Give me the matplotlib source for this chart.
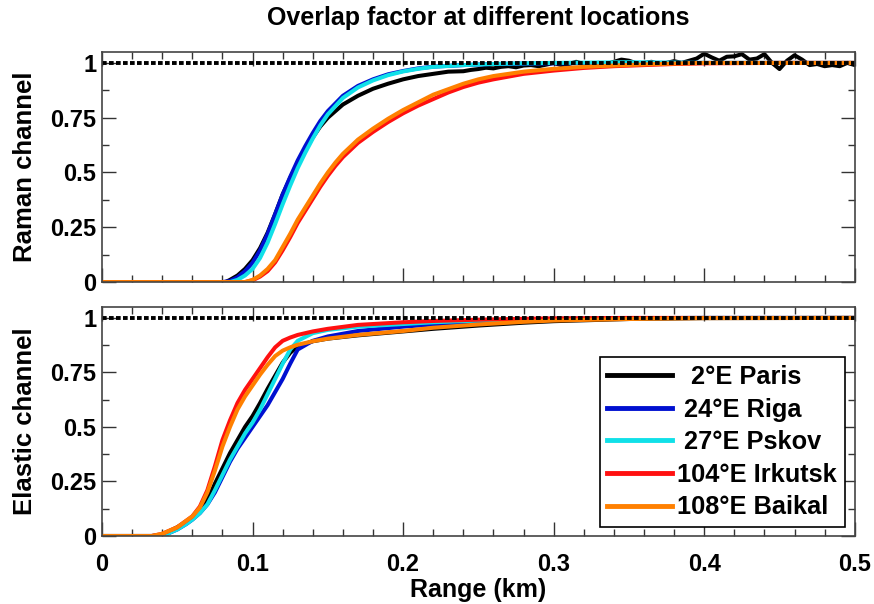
import matplotlib
matplotlib.use("Agg")
import matplotlib.pyplot as plt
from matplotlib.ticker import MultipleLocator

plt.rcParams["font.family"] = ["Liberation Sans", "DejaVu Sans"]
plt.rcParams["font.weight"] = "bold"

# Raman channel overlap curves
raman_x = [0, 0.08, 0.085, 0.09, 0.095, 0.10, 0.105, 0.11, 0.115, 0.12, 0.125,
           0.13, 0.135, 0.14, 0.145, 0.15, 0.16, 0.17, 0.18, 0.19, 0.20, 0.21,
           0.22, 0.24, 0.26, 0.28, 0.30, 0.35, 0.40, 0.45, 0.50]
raman_riga = [0, 0, 0.005, 0.022, 0.05, 0.088, 0.145, 0.22, 0.31, 0.40, 0.48,
              0.555, 0.62, 0.68, 0.735, 0.78, 0.85, 0.895, 0.925, 0.948, 0.963,
              0.975, 0.983, 0.99, 0.995, 0.997, 0.998, 1.0, 1.0, 1.0, 1.0]
raman_pskov = [0, 0, 0, 0.01, 0.03, 0.06, 0.11, 0.18, 0.265, 0.355, 0.44,
               0.52, 0.59, 0.655, 0.715, 0.765, 0.84, 0.888, 0.92, 0.944, 0.961,
               0.973, 0.982, 0.99, 0.995, 0.998, 1.0, 1.003, 1.0, 1.0, 1.0]

raman_paris_x = [0, 0.082, 0.085, 0.09, 0.095, 0.10, 0.105, 0.11, 0.115, 0.12,
                 0.125, 0.13, 0.135, 0.14, 0.145, 0.15, 0.16, 0.17, 0.18, 0.19,
                 0.20, 0.21, 0.22, 0.23, 0.24, 0.245,
                 0.25, 0.255, 0.26, 0.265, 0.27, 0.275, 0.28, 0.285, 0.29, 0.295,
                 0.30, 0.305, 0.31, 0.315, 0.32, 0.325, 0.33, 0.335, 0.34, 0.345,
                 0.35, 0.355, 0.36, 0.365, 0.37, 0.375, 0.38, 0.385, 0.39, 0.395,
                 0.40, 0.405, 0.41, 0.415, 0.42, 0.425, 0.43, 0.435, 0.44, 0.445,
                 0.45, 0.455, 0.46, 0.465, 0.47, 0.475, 0.48, 0.485, 0.49, 0.495, 0.50]
raman_paris = [0, 0, 0.01, 0.03, 0.06, 0.10, 0.155, 0.225, 0.31, 0.40, 0.475,
               0.545, 0.605, 0.66, 0.71, 0.75, 0.81, 0.85, 0.882, 0.905,
               0.925, 0.94, 0.95, 0.96, 0.962, 0.968,
               0.972, 0.978, 0.975, 0.982, 0.985, 0.98, 0.988, 0.99, 0.985, 0.992,
               1.0, 0.99, 0.995, 1.005, 0.995, 0.998, 1.0, 0.995, 1.005, 1.015,
               1.01, 0.998, 1.0, 1.005, 0.995, 1.0, 1.008, 1.0, 1.01, 1.02,
               1.042, 1.025, 1.01, 1.028, 1.03, 1.04, 1.015, 1.02, 1.04, 1.0,
               0.972, 1.01, 1.035, 1.015, 0.99, 0.995, 0.985, 0.99, 0.985, 1.0, 0.99]

raman_far_x = [0, 0.095, 0.10, 0.105, 0.11, 0.115, 0.12, 0.125, 0.13, 0.135, 0.14,
               0.145, 0.15, 0.155, 0.16, 0.17, 0.18, 0.19, 0.20, 0.21, 0.22, 0.23,
               0.24, 0.25, 0.26, 0.28, 0.30, 0.32, 0.34, 0.36, 0.38, 0.40, 0.45, 0.50]
raman_irkutsk = [0, 0, 0.008, 0.025, 0.05, 0.09, 0.145, 0.205, 0.27, 0.325, 0.38,
                 0.435, 0.485, 0.53, 0.57, 0.635, 0.685, 0.73, 0.77, 0.805, 0.835,
                 0.865, 0.89, 0.91, 0.925, 0.95, 0.965, 0.977, 0.985, 0.99, 0.995,
                 0.998, 1.0, 1.0]
raman_baikal = [0, 0, 0.01, 0.03, 0.06, 0.10, 0.16, 0.22, 0.285, 0.34, 0.395,
                0.45, 0.50, 0.545, 0.585, 0.65, 0.70, 0.745, 0.785, 0.82, 0.855,
                0.88, 0.905, 0.925, 0.94, 0.96, 0.973, 0.982, 0.988, 0.993, 0.997,
                1.0, 1.0, 1.0]

# Elastic channel overlap curves
elastic_x = [0, 0.033, 0.04, 0.05, 0.056, 0.06, 0.065, 0.07, 0.075, 0.08, 0.085,
             0.09, 0.095, 0.10, 0.105, 0.11, 0.115, 0.12, 0.125, 0.13, 0.14,
             0.15, 0.17, 0.20, 0.22, 0.25, 0.28, 0.30, 0.35, 0.40, 0.50]
elastic_paris = [0, 0, 0.005, 0.04, 0.065, 0.085, 0.12, 0.165, 0.24, 0.31, 0.38,
                 0.44, 0.50, 0.55, 0.61, 0.675, 0.735, 0.795, 0.84, 0.87, 0.893,
                 0.905, 0.92, 0.938, 0.95, 0.965, 0.978, 0.985, 0.995, 0.999, 1.0]
elastic_riga = [0, 0, 0, 0.03, 0.055, 0.075, 0.105, 0.145, 0.20, 0.27, 0.34,
                0.40, 0.45, 0.50, 0.55, 0.60, 0.66, 0.72, 0.79, 0.855, 0.895,
                0.915, 0.94, 0.96, 0.97, 0.982, 0.99, 0.995, 0.999, 1.0, 1.0]
elastic_pskov = [0, 0, 0, 0.03, 0.055, 0.075, 0.105, 0.145, 0.21, 0.28, 0.35,
                 0.41, 0.47, 0.52, 0.58, 0.65, 0.72, 0.79, 0.855, 0.895, 0.93,
                 0.945, 0.96, 0.972, 0.98, 0.988, 0.993, 0.996, 0.999, 1.0, 1.0]
elastic_irkutsk = [0, 0, 0.01, 0.04, 0.07, 0.09, 0.135, 0.21, 0.32, 0.44, 0.53,
                   0.61, 0.67, 0.72, 0.77, 0.82, 0.865, 0.895, 0.91, 0.922, 0.938,
                   0.95, 0.968, 0.98, 0.986, 0.992, 0.996, 0.998, 1.0, 1.0, 1.0]
elastic_baikal = [0, 0, 0.01, 0.04, 0.07, 0.09, 0.13, 0.20, 0.30, 0.41, 0.50,
                  0.58, 0.64, 0.69, 0.74, 0.785, 0.825, 0.85, 0.865, 0.877, 0.893,
                  0.905, 0.922, 0.94, 0.955, 0.97, 0.982, 0.988, 0.995, 0.999, 1.0]

labels = ["  2°E Paris", " 24°E Riga", " 27°E Pskov", "104°E Irkutsk", "108°E Baikal"]
colors = ["black", "#0010d0", "#10e0e8", "#ff1010", "#ff8000"]

fig = plt.figure(figsize=(8.74, 6.04), dpi=100)
ax1 = fig.add_axes([0.1167, 0.533, 0.8613, 0.381])
ax2 = fig.add_axes([0.1167, 0.1126, 0.8613, 0.3791])

lw = 2.9
ax1.plot(raman_paris_x, raman_paris, color=colors[0], lw=lw)
ax1.plot(raman_x, raman_riga, color=colors[1], lw=lw)
ax1.plot(raman_x, raman_pskov, color=colors[2], lw=lw)
ax1.plot(raman_far_x, raman_irkutsk, color=colors[3], lw=lw)
ax1.plot(raman_far_x, raman_baikal, color=colors[4], lw=lw)

series = [elastic_paris, elastic_riga, elastic_pskov, elastic_irkutsk, elastic_baikal]
for ys, c, lab in zip(series, colors, labels):
    ax2.plot(elastic_x, ys, color=c, lw=lw, label=lab)

for ax in (ax1, ax2):
    ax.axhline(1.0, color="black", lw=2.8, ls=(0, (1.2, 0.6)))
    ax.set_xlim(0, 0.5)
    ax.set_ylim(0, 1.05)
    ax.xaxis.set_major_locator(MultipleLocator(0.1))
    ax.xaxis.set_minor_locator(MultipleLocator(0.02))
    ax.yaxis.set_major_locator(MultipleLocator(0.25))
    ax.yaxis.set_minor_locator(MultipleLocator(0.125))
    ax.tick_params(which="both", direction="in", top=True, right=True,
                   labelsize=17, color="#333333")
    ax.tick_params(which="major", length=10, width=1)
    ax.tick_params(which="minor", length=5, width=1)
    ax.tick_params(axis="y", pad=4)
    ax.tick_params(axis="x", pad=12)
    for s in ax.spines.values():
        s.set_color("#444444")
        s.set_linewidth(1.2)
    ax.set_yticks([0, 0.25, 0.5, 0.75, 1.0])
    ax.set_yticklabels(["0", "0.25", "0.5", "0.75", "1"])

ax1.set_xticklabels([])
ax2.set_xticks([0, 0.1, 0.2, 0.3, 0.4, 0.5])
ax2.set_xticklabels(["0", "0.1", "0.2", "0.3", "0.4", "0.5"])

ax1.set_ylabel("Raman channel", fontsize=18.5, fontweight="bold")
ax2.set_ylabel("Elastic channel", fontsize=18.5, fontweight="bold")
ax1.yaxis.set_label_coords(-0.087, 0.5)
ax2.yaxis.set_label_coords(-0.087, 0.5)
ax2.set_xlabel("Range (km)", fontsize=18, fontweight="bold", labelpad=2)
fig.text(0.547, 0.97, "Overlap factor at different locations", ha="center",
         va="center", fontsize=18, fontweight="bold")

leg = ax2.legend(loc="lower right", bbox_to_anchor=(0.9867, 0.039), borderaxespad=0,
                 fontsize=18.3, handlelength=2.55, handletextpad=0.2,
                 labelspacing=0.34, fancybox=False, framealpha=1,
                 borderpad=0.3)
leg.get_frame().set_edgecolor("black")
leg.get_frame().set_linewidth(1.2)
for line in leg.get_lines():
    line.set_linewidth(3.5)

fig.savefig("out.png", dpi=100)
